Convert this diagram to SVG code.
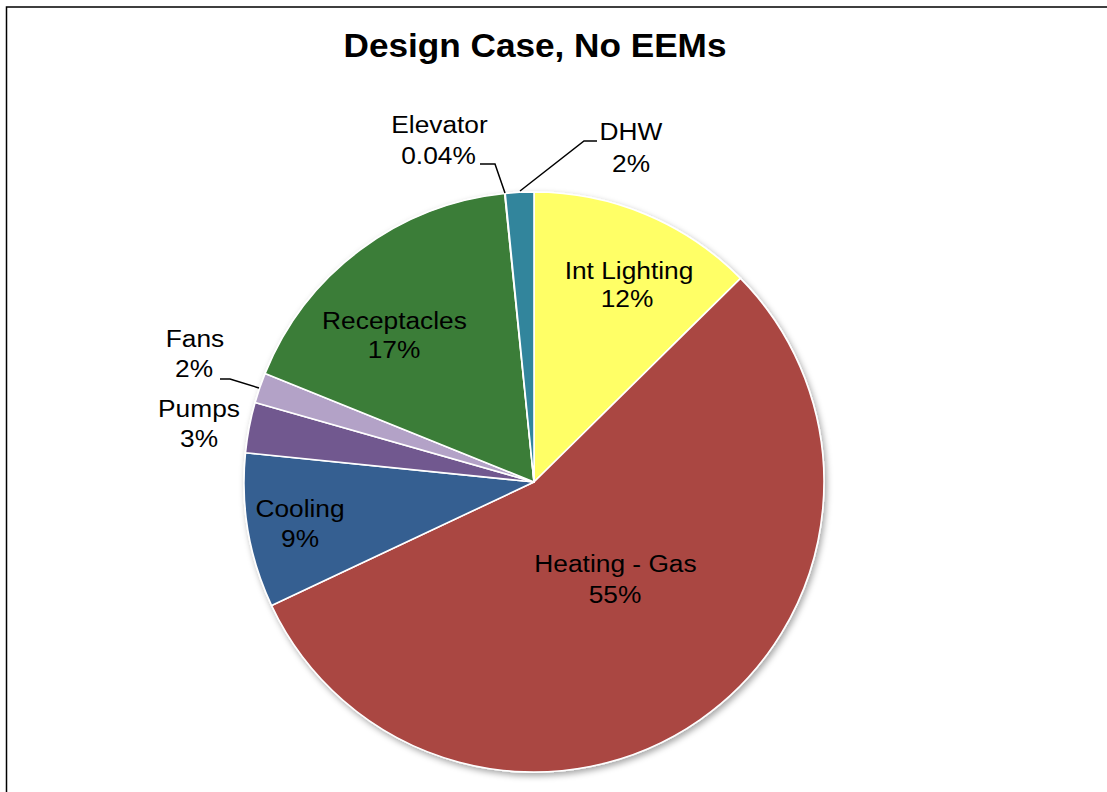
<svg xmlns="http://www.w3.org/2000/svg" width="1107" height="792" viewBox="0 0 1107 792">
<style>
.lbl{font-family:"Liberation Sans",Arial,sans-serif;font-size:23.5px;fill:#000;text-anchor:middle}
.ttl{font-family:"Liberation Sans",Arial,sans-serif;font-size:33.5px;font-weight:bold;fill:#000;text-anchor:middle}
.sl{stroke:#fff;stroke-width:1.6;stroke-linejoin:round}
.lead{fill:none;stroke:#000;stroke-width:1.5}
</style>
<defs>
<filter id="sh" x="-10%" y="-10%" width="120%" height="120%">
<feDropShadow dx="2" dy="3" stdDeviation="3" flood-color="#000" flood-opacity="0.35"/>
</filter>
</defs>
<rect x="0" y="0" width="1107" height="792" fill="#fff"/>
<rect x="6.5" y="7" width="1110" height="800" fill="none" stroke="#000" stroke-width="1.5"/>
<text class="ttl" transform="translate(535,57) scale(1.05,1)">Design Case, No EEMs</text>
<g id="pie" filter="url(#sh)">
<g id="int-lighting"><path class="sl" fill="#FFFF66" d="M534,482 L534,192 A290,290 0 0,1 740.5,278.4 Z"/></g>
<g id="heating-gas"><path class="sl" fill="#AA4643" d="M534,482 L740.5,278.4 A290,290 0 1,1 271.6,605.5 Z"/></g>
<g id="cooling"><path class="sl" fill="#365F91" d="M534,482 L271.6,605.5 A290,290 0 0,1 245.5,452.7 Z"/></g>
<g id="pumps"><path class="sl" fill="#71588F" d="M534,482 L245.5,452.7 A290,290 0 0,1 255.1,402.5 Z"/></g>
<g id="fans"><path class="sl" fill="#B3A2C7" d="M534,482 L255.1,402.5 A290,290 0 0,1 265.1,373.4 Z"/></g>
<g id="receptacles"><path class="sl" fill="#3A7D37" d="M534,482 L265.1,373.4 A290,290 0 0,1 504.7,193.5 Z"/></g>
<g id="elevator"><path class="sl" fill="#4F81BD" d="M534,482 L504.7,193.5 A290,290 0 0,1 505.2,193.4 Z"/></g>
<g id="dhw"><path class="sl" fill="#31859C" d="M534,482 L505.2,193.4 A290,290 0 0,1 534,192 Z"/></g>
</g>
<g id="connectors">
<path class="lead" d="M480,164 L495,164 L505,193"/>
<path class="lead" d="M520,191 L584,141 L597,141"/>
<path class="lead" d="M220,379 L230,379 L259,388"/>
</g>
<g id="labels">
<text class="lbl" transform="translate(629,279) scale(1.12,1)">Int Lighting</text>
<text class="lbl" transform="translate(627,307) scale(1.12,1)">12%</text>
<text class="lbl" transform="translate(615.5,572) scale(1.12,1)">Heating - Gas</text>
<text class="lbl" transform="translate(615,603) scale(1.12,1)">55%</text>
<text class="lbl" transform="translate(300,517) scale(1.12,1)">Cooling</text>
<text class="lbl" transform="translate(300,547) scale(1.12,1)">9%</text>
<text class="lbl" transform="translate(394.5,329) scale(1.12,1)">Receptacles</text>
<text class="lbl" transform="translate(394,358) scale(1.12,1)">17%</text>
<text class="lbl" transform="translate(199,417) scale(1.12,1)">Pumps</text>
<text class="lbl" transform="translate(199,447) scale(1.12,1)">3%</text>
<text class="lbl" transform="translate(195,347) scale(1.12,1)">Fans</text>
<text class="lbl" transform="translate(194,377) scale(1.12,1)">2%</text>
<text class="lbl" transform="translate(439.5,133) scale(1.12,1)">Elevator</text>
<text class="lbl" transform="translate(438.5,164) scale(1.12,1)">0.04%</text>
<text class="lbl" transform="translate(631,140) scale(1.12,1)">DHW</text>
<text class="lbl" transform="translate(631,172) scale(1.12,1)">2%</text>
</g>
</svg>
